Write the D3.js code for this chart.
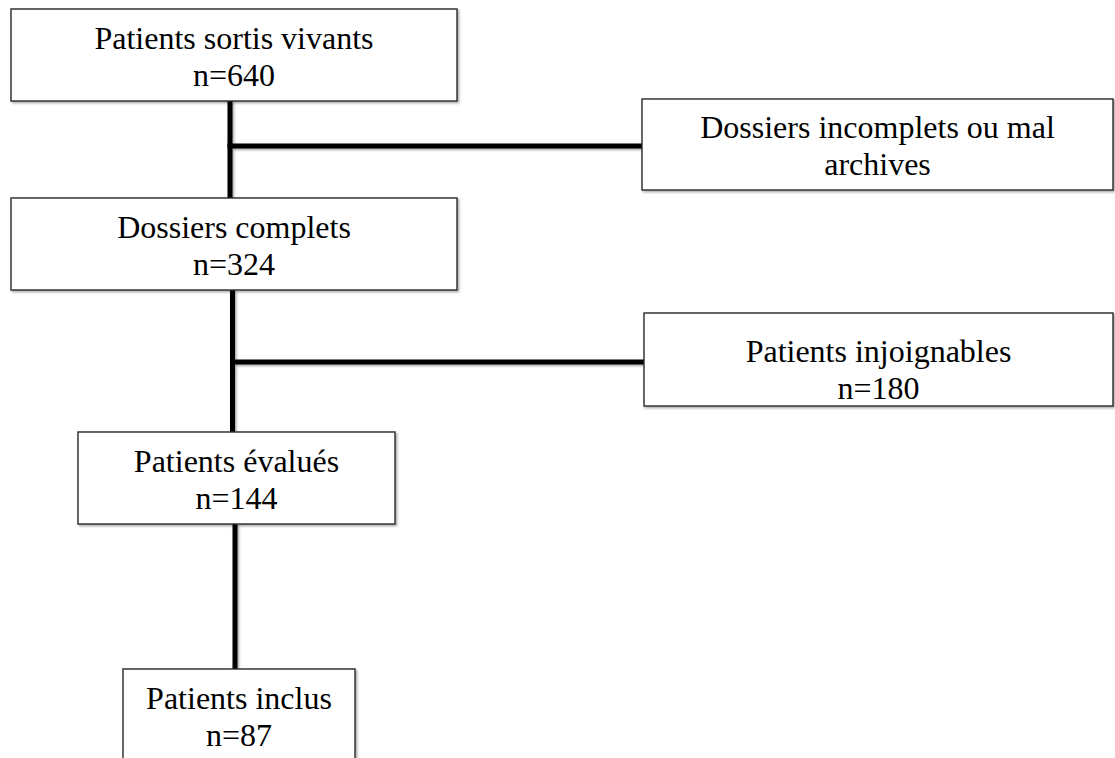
<!DOCTYPE html>
<html>
<head>
<meta charset="utf-8">
<script src="https://cdn.jsdelivr.net/npm/d3@7"></script>
<style>
  body{margin:0;background:#fff;}
  svg{display:block;}
  text{font-family:"Liberation Serif","Times New Roman",serif;fill:#000;}
</style>
</head>
<body>
<svg id="svg" width="1115" height="758"></svg>
<script>
// flow chart data
var steps=["Patients sortis vivants","Dossiers incomplets ou mal","Dossiers complets","Patients injoignables","Patients évalués","Patients inclus"]
var secondLines=["n=640","archives","n=324","n=180","n=144","n=87"]
var links=[[0,2],[2,4],[4,5]]   // main path, top -> bottom
var exits=[[0,1],[2,3]]         // side branches off the main path

// layout (pixel boxes), kept apart from the data
var boxes=[
  {x0:11,y0:9,x1:457,y1:101,dy:40},
  {x0:642,y0:99,x1:1113,y1:190,dy:39},
  {x0:11,y0:198,x1:457,y1:290,dy:40},
  {x0:644,y0:313,x1:1113,y1:406,dy:49},
  {x0:78,y0:432,x1:395,y1:524,dy:40},
  {x0:123,y0:669,x1:355,y1:790,dy:40}
]
var spineX=[230,232.5,235]   // x of each vertical link
var branchY=[146,362]         // y of each side branch
var lineHeight=36.5

var svg=d3.select("#svg")

var defs=svg.append("defs")
var f=defs.append("filter").attr("id","shadow").attr("x","-20%").attr("y","-20%").attr("width","140%").attr("height","140%")
f.append("feDropShadow").attr("dx",1.5).attr("dy",1.5).attr("stdDeviation",1.2)
  .attr("flood-color","#000").attr("flood-opacity",0.35)

var lines=svg.append("g").attr("filter","url(#shadow)")

// vertical links
lines.selectAll("line.v")
  .data(links)
  .enter().append("line")
    .attr("class","v")
    .attr("x1",(d,i)=>spineX[i])
    .attr("x2",(d,i)=>spineX[i])
    .attr("y1",d=>boxes[d[0]].y1)
    .attr("y2",d=>boxes[d[1]].y0)
    .style("stroke","#000")
    .style("stroke-width",5)

// side branches
lines.selectAll("line.h")
  .data(exits)
  .enter().append("line")
    .attr("class","h")
    .attr("x1",(d,i)=>spineX[i]-2.5)
    .attr("x2",d=>boxes[d[1]].x0)
    .attr("y1",(d,i)=>branchY[i])
    .attr("y2",(d,i)=>branchY[i])
    .style("stroke","#000")
    .style("stroke-width",5)

// boxes
var cell=svg.selectAll("g.box")
  .data(steps)
  .enter().append("g")
    .attr("class","box")
    .attr("transform",(d,i)=>"translate("+boxes[i].x0+","+boxes[i].y0+")")

cell.append("rect")
    .attr("width",(d,i)=>boxes[i].x1-boxes[i].x0)
    .attr("height",(d,i)=>boxes[i].y1-boxes[i].y0)
    .style("fill","#fff")
    .style("stroke","#2a2a2a")
    .style("stroke-width",1.4)
    .attr("filter","url(#shadow)")

cell.append("text")
    .text(d=>d)
    .attr("x",(d,i)=>(boxes[i].x1-boxes[i].x0)/2)
    .attr("y",(d,i)=>boxes[i].dy)
    .attr("text-anchor","middle")
    .style("font-size","32px")

cell.append("text")
    .text((d,i)=>secondLines[i])
    .attr("x",(d,i)=>(boxes[i].x1-boxes[i].x0)/2)
    .attr("y",(d,i)=>boxes[i].dy+lineHeight)
    .attr("text-anchor","middle")
    .style("font-size","32px")
</script>
</body>
</html>
